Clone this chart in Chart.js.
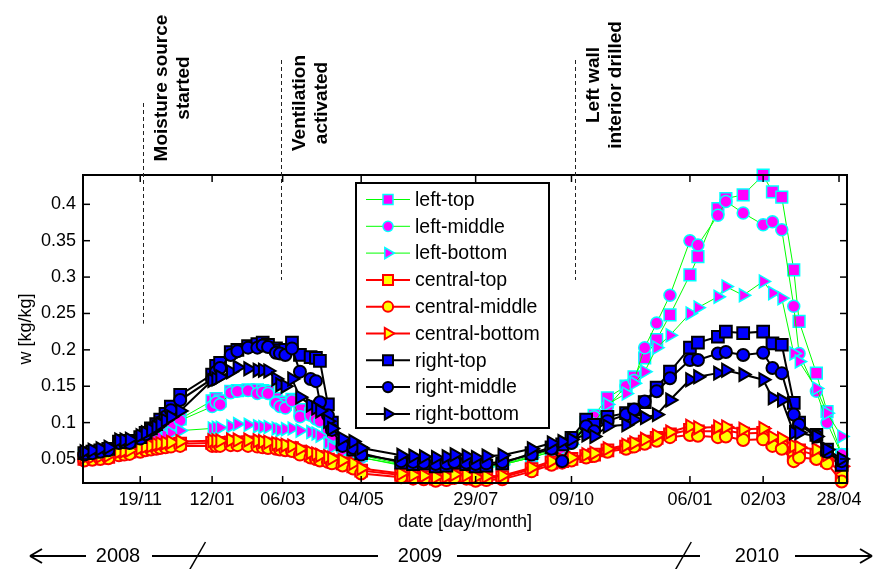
<!DOCTYPE html>
<html>
<head>
<meta charset="utf-8">
<script src="https://cdn.jsdelivr.net/npm/chart.js@4.4.1/dist/chart.umd.min.js"></script>
<style>
html, body { margin: 0; padding: 0; background: #fff; }
canvas { display: block; }
</style>
</head>
<body>
<canvas id="wChart" width="877" height="569"></canvas>
<script>
// measurement dates (dd/mm/yyyy)
var dates = [
  '08/10/2008','14/10/2008','20/10/2008','26/10/2008','03/11/2008','07/11/2008','11/11/2008','19/11/2008','23/11/2008','27/11/2008',
  '01/12/2008','04/12/2008','08/12/2008','12/12/2008','19/12/2008','12/01/2009','15/01/2009','18/01/2009','26/01/2009','31/01/2009',
  '08/02/2009','15/02/2009','19/02/2009','23/02/2009','01/03/2009','04/03/2009','08/03/2009','13/03/2009','19/03/2009','27/03/2009',
  '31/03/2009','03/04/2009','09/04/2009','12/04/2009','20/04/2009','28/04/2009','04/05/2009','03/06/2009','12/06/2009','20/06/2009',
  '29/06/2009','07/07/2009','13/07/2009','22/07/2009','29/07/2009','06/08/2009','18/08/2009','09/09/2009','24/09/2009','02/10/2009',
  '09/10/2009','20/10/2009','26/10/2009','05/11/2009','19/11/2009','25/11/2009','03/12/2009','12/12/2009','22/12/2009','06/01/2010',
  '12/01/2010','27/01/2010','02/02/2010','15/02/2010','02/03/2010','09/03/2010','16/03/2010','25/03/2010','29/03/2010','11/04/2010',
  '19/04/2010','30/04/2010'
];

// moisture content w [kg/kg]
var leftTop = [
  .055,.056,.057,.058,.064,.065,.066,.072,.076,.080,.084,.088,.093,.098,.105,
  .130,.133,.130,.143,.144,.145,.145,.144,.143,.133,.128,.125,.132,.118,.112,.111,.110,.095,.088,
  .068,.064,.055,
  .043,.041,.041,.039,.039,.042,.041,.039,.040,.043,.054,.062,.064,.075,
  .100,.110,.134,.150,.163,.189,.214,.248,.303,.328,.394,.408,.413,.440,.417,.410,.310,.239,.168,.115,.056
];
var leftMiddle = [
  .054,.055,.056,.057,.063,.064,.065,.070,.074,.078,.082,.086,.091,.096,.103,
  .122,.128,.125,.141,.143,.144,.140,.142,.140,.127,.122,.120,.130,.108,.110,.105,.102,.090,.082,
  .062,.060,.052,
  .042,.040,.040,.038,.038,.041,.040,.038,.039,.042,.052,.060,.062,.072,
  .098,.108,.122,.150,.158,.203,.237,.275,.350,.344,.385,.404,.388,.372,.376,.365,.260,.195,.143,.100,.056
];
var leftBottom = [
  .056,.057,.058,.059,.064,.065,.066,.070,.073,.076,.078,.080,.083,.086,.089,
  .092,.093,.093,.095,.098,.097,.095,.094,.094,.092,.090,.091,.092,.089,.087,.085,.082,.072,.066,
  .060,.058,.052,
  .041,.040,.040,.038,.038,.041,.040,.038,.039,.042,.052,.060,.063,.070,
  .090,.100,.125,.140,.154,.170,.203,.220,.250,.258,.273,.287,.275,.294,.278,.271,.195,.184,.147,.113,.081
];
var centralTop = [
  .050,.051,.052,.053,.058,.059,.060,.063,.065,.066,.067,.068,.069,.070,.071,
  .072,.072,.072,.073,.073,.073,.072,.071,.070,.068,.067,.066,.065,.060,.055,.053,.051,.049,.047,
  .044,.040,.034,
  .028,.026,.025,.023,.024,.027,.026,.023,.024,.025,.036,.045,.047,.050,
  .054,.056,.062,.067,.070,.074,.079,.084,.090,.088,.088,.089,.085,.086,.074,.070,.058,.062,.055,.048,.031
];
var centralMiddle = [
  .048,.049,.050,.051,.055,.056,.057,.060,.062,.063,.064,.065,.066,.067,.068,
  .068,.068,.068,.069,.069,.068,.067,.066,.065,.064,.063,.062,.061,.056,.052,.050,.048,.046,.044,
  .041,.037,.030,
  .025,.023,.022,.020,.021,.024,.023,.020,.021,.022,.033,.042,.045,.048,
  .052,.054,.060,.064,.067,.071,.075,.080,.083,.082,.080,.081,.076,.077,.068,.064,.047,.052,.050,.044,.019
];
var centralBottom = [
  .052,.053,.054,.055,.060,.061,.062,.065,.067,.068,.070,.071,.072,.073,.074,
  .075,.075,.075,.076,.076,.076,.075,.074,.073,.071,.070,.069,.068,.064,.059,.057,.055,.053,.051,
  .048,.044,.037,
  .030,.028,.027,.025,.026,.029,.028,.025,.026,.027,.038,.047,.049,.052,
  .056,.058,.064,.069,.072,.077,.082,.087,.095,.093,.094,.094,.091,.092,.080,.078,.068,.066,.063,.056,.040
];
var rightTop = [
  .058,.060,.062,.064,.074,.075,.075,.080,.086,.092,.098,.104,.112,.122,.138,
  .166,.178,.182,.197,.200,.205,.208,.210,.207,.202,.199,.200,.210,.193,.190,.189,.185,.125,.100,
  .070,.063,.058,
  .045,.043,.044,.040,.041,.045,.043,.040,.041,.044,.058,.066,.070,.079,
  .104,.097,.108,.113,.118,.128,.148,.170,.203,.210,.218,.225,.223,.225,.209,.207,.127,.100,.083,.063,.042
];
var rightMiddle = [
  .056,.058,.060,.062,.072,.073,.072,.078,.084,.090,.095,.100,.108,.117,.131,
  .160,.170,.175,.193,.198,.203,.203,.206,.204,.196,.195,.193,.202,.170,.160,.157,.128,.110,.090,
  .068,.065,.056,
  .047,.046,.045,.043,.044,.046,.045,.043,.044,.046,.056,.064,.047,.072,
  .095,.088,.102,.111,.118,.129,.143,.161,.186,.186,.195,.197,.193,.196,.175,.168,.111,.097,.081,.060,.047
];
var rightBottom = [
  .060,.062,.064,.066,.076,.076,.077,.082,.086,.090,.094,.098,.103,.108,.116,
  .158,.160,.163,.170,.176,.174,.172,.172,.171,.160,.152,.150,.160,.135,.124,.120,.116,.102,.092,
  .078,.074,.065,
  .055,.054,.053,.052,.053,.056,.054,.052,.054,.055,.064,.072,.074,.077,
  .083,.081,.095,.097,.104,.107,.111,.131,.159,.163,.168,.172,.166,.159,.134,.131,.086,.086,.081,.063,.050
];

var xTickDates = ['19/11/2008','12/01/2009','06/03/2009','04/05/2009','29/07/2009','09/10/2009','06/01/2010','02/03/2010','28/04/2010'];
var yTicks = [0.05, 0.1, 0.15, 0.2, 0.25, 0.3, 0.35, 0.4];

// events marked above the plot
var eventDates = ['21/11/2008', '05/03/2009', '12/10/2009'];
var eventLabels = [['Moisture source', 'started'], ['Ventilation', 'activated'], ['Left wall', 'interior drilled']];
var eventLevels = [0.236, 0.296, 0.296];

var yearLabels = ['2008', '2009', '2010'];
var yearBreaks = ['01/01/2009', '01/01/2010'];

function dayNum(s) {
  var p = s.split('/').map(Number);
  return Date.UTC(p[2], p[1] - 1, p[0]) / 86400000;
}
function pad(n) { return (n < 10 ? '0' : '') + n; }
function fmtDay(v) {
  var d = new Date(v * 86400000);
  return pad(d.getUTCDate()) + '/' + pad(d.getUTCMonth() + 1);
}

function series(label, values, line, lineWidth, fill, edge, shape) {
  return {
    label: label,
    data: values.map(function (v, i) { return { x: dayNum(dates[i]), y: v }; }),
    borderColor: line,
    borderWidth: lineWidth,
    pointStyle: shape,
    pointRotation: shape === 'triangle' ? 90 : 0,
    pointRadius: shape === 'rect' ? 8.3 : (shape === 'circle' ? 6 : 7.5),
    pointBackgroundColor: fill,
    pointBorderColor: edge,
    pointBorderWidth: lineWidth === 1 ? 1.5 : 2,
    tension: 0,
    fill: false,
    clip: false
  };
}

var datasets = [
  series('left-top', leftTop, '#00ff00', 1, '#ff00ff', '#00ffff', 'rect'),
  series('left-middle', leftMiddle, '#00ff00', 1, '#ff00ff', '#00ffff', 'circle'),
  series('left-bottom', leftBottom, '#00ff00', 1, '#ff00ff', '#00ffff', 'triangle'),
  series('central-top', centralTop, '#ff0000', 2, '#ffff00', '#ff0000', 'rect'),
  series('central-middle', centralMiddle, '#ff0000', 2, '#ffff00', '#ff0000', 'circle'),
  series('central-bottom', centralBottom, '#ff0000', 2, '#ffff00', '#ff0000', 'triangle'),
  series('right-top', rightTop, '#000000', 2, '#0000ff', '#000000', 'rect'),
  series('right-middle', rightMiddle, '#000000', 2, '#0000ff', '#000000', 'circle'),
  series('right-bottom', rightBottom, '#000000', 2, '#0000ff', '#000000', 'triangle')
];
// later series drawn on top, like the original plot
datasets.forEach(function (ds, i) { ds.order = datasets.length - 1 - i; });

function drawMarker(ctx, ds, x, y) {
  var r = ds.pointRadius * 0.85;
  ctx.beginPath();
  if (ds.pointStyle === 'rect') {
    var s = r * Math.SQRT1_2;
    ctx.rect(x - s, y - s, 2 * s, 2 * s);
  } else if (ds.pointStyle === 'circle') {
    ctx.arc(x, y, r, 0, Math.PI * 2);
  } else {
    for (var k = 0; k < 3; k++) {
      var a = Math.PI / 2 + k * 2 * Math.PI / 3;
      var px = x + Math.sin(a) * r, py = y - Math.cos(a) * r;
      if (k) ctx.lineTo(px, py); else ctx.moveTo(px, py);
    }
    ctx.closePath();
  }
  ctx.fillStyle = ds.pointBackgroundColor;
  ctx.fill();
  ctx.lineWidth = ds.pointBorderWidth;
  ctx.strokeStyle = ds.pointBorderColor;
  ctx.stroke();
}

function line(ctx, x1, y1, x2, y2) {
  ctx.beginPath();
  ctx.moveTo(x1, y1);
  ctx.lineTo(x2, y2);
  ctx.stroke();
}

var frame = {
  id: 'frame',
  beforeDraw: function (chart) {
    var ctx = chart.ctx;
    ctx.save();
    ctx.fillStyle = '#fff';
    ctx.fillRect(0, 0, chart.width, chart.height);
    ctx.restore();
  },
  afterDatasetsDraw: function (chart) {
    var ctx = chart.ctx, a = chart.chartArea;
    var xs = chart.scales.x, ys = chart.scales.y;
    ctx.save();
    ctx.strokeStyle = '#000';
    ctx.lineWidth = 1.5;
    // inward ticks on all four sides
    xs.ticks.forEach(function (t) {
      var x = xs.getPixelForValue(t.value);
      line(ctx, x, a.bottom, x, a.bottom - 7);
      line(ctx, x, a.top, x, a.top + 7);
    });
    ys.ticks.forEach(function (t) {
      var y = ys.getPixelForValue(t.value);
      line(ctx, a.left, y, a.left + 7, y);
      line(ctx, a.right, y, a.right - 7, y);
    });
    ctx.lineWidth = 2;
    ctx.strokeRect(a.left, a.top, a.right - a.left, a.bottom - a.top);

    // legend box
    var lx = a.left + 273, ly = a.top + 8, lw = 193, lh = 245;
    ctx.fillStyle = '#fff';
    ctx.fillRect(lx, ly, lw, lh);
    ctx.strokeRect(lx, ly, lw, lh);
    ctx.font = '19.5px "Liberation Sans", Arial, sans-serif';
    ctx.textBaseline = 'middle';
    chart.data.datasets.forEach(function (ds, i) {
      var y = ly + 16.5 + i * 26.8;
      ctx.strokeStyle = ds.borderColor;
      ctx.lineWidth = ds.borderWidth;
      line(ctx, lx + 10, y, lx + 54, y);
      drawMarker(ctx, ds, lx + 32, y);
      ctx.fillStyle = '#000';
      ctx.fillText(ds.label, lx + 59, y + 1);
    });
    ctx.restore();
  },
  afterDraw: function (chart) {
    var ctx = chart.ctx, xs = chart.scales.x, ys = chart.scales.y;
    ctx.save();
    // event markers
    var tops = [103, 60, 60], mids = [88, 103, 85];
    ctx.strokeStyle = '#222';
    ctx.lineWidth = 1;
    ctx.font = 'bold 19px "Liberation Sans", Arial, sans-serif';
    ctx.fillStyle = '#000';
    ctx.textAlign = 'center';
    ctx.textBaseline = 'middle';
    eventDates.forEach(function (d, i) {
      var x = Math.round(xs.getPixelForValue(dayNum(d))) + 0.5;
      ctx.setLineDash([4, 3]);
      line(ctx, x, tops[i], x, ys.getPixelForValue(eventLevels[i]));
      ctx.setLineDash([]);
      eventLabels[i].forEach(function (txt, j) {
        ctx.save();
        ctx.translate(x + 18 + j * 22, mids[i]);
        ctx.rotate(-Math.PI / 2);
        ctx.fillText(txt, 0, 0);
        ctx.restore();
      });
    });

    // year band under the axis
    var y = 556;
    ctx.strokeStyle = '#000';
    ctx.lineWidth = 2;
    ctx.font = '20px "Liberation Sans", Arial, sans-serif';
    var b1 = xs.getPixelForValue(dayNum(yearBreaks[0]));
    var b2 = xs.getPixelForValue(dayNum(yearBreaks[1]));
    line(ctx, 30, y, 86, y);
    line(ctx, 30, y, 42, y - 7);
    line(ctx, 30, y, 42, y + 7);
    ctx.fillText(yearLabels[0], 118, y);
    line(ctx, 152, y, 378, y);
    ctx.fillText(yearLabels[1], 420, y);
    line(ctx, 457, y, 700, y);
    ctx.fillText(yearLabels[2], 757, y);
    line(ctx, 795, y, 872, y);
    line(ctx, 872, y, 860, y - 7);
    line(ctx, 872, y, 860, y + 7);
    ctx.lineWidth = 1.5;
    [b1, b2].forEach(function (bx) { line(ctx, bx - 8, y + 14, bx + 8, y - 14); });
    ctx.restore();
  }
};

Chart.defaults.font.family = '"Liberation Sans", Arial, Helvetica, sans-serif';
Chart.defaults.font.size = 18;
Chart.defaults.color = '#000';

var ctx = document.getElementById('wChart').getContext('2d');
window.wChart = new Chart(ctx, {
  type: 'line',
  data: { datasets: datasets },
  plugins: [frame],
  options: {
    responsive: false,
    animation: false,
    events: [],
    layout: { padding: { top: 175, right: 30, left: 0, bottom: 0 } },
    plugins: { legend: { display: false }, tooltip: { enabled: false } },
    scales: {
      x: {
        type: 'linear',
        min: dayNum('07/10/2008'),
        max: dayNum('04/05/2010'),
        grid: { display: false, drawTicks: false },
        border: { display: false },
        afterBuildTicks: function (s) {
          s.ticks = xTickDates.map(function (d) { return { value: dayNum(d) }; });
        },
        afterFit: function (s) { s.height = 86; },
        ticks: { autoSkip: false, maxRotation: 0, padding: 6, callback: function (v) { return fmtDay(v); } },
        title: { display: true, text: 'date [day/month]', padding: { top: 0, bottom: 36 } }
      },
      y: {
        min: 0.017,
        max: 0.4403,
        grid: { display: false, drawTicks: false },
        border: { display: false },
        afterBuildTicks: function (s) {
          s.ticks = yTicks.map(function (v) { return { value: v }; });
        },
        afterFit: function (s) { s.width = 83; },
        ticks: { padding: 7, callback: function (v) { return String(Math.round(v * 100) / 100); } },
        title: { display: true, text: 'w [kg/kg]', padding: { top: 15, bottom: 0 } }
      }
    }
  }
});
</script>
</body>
</html>
